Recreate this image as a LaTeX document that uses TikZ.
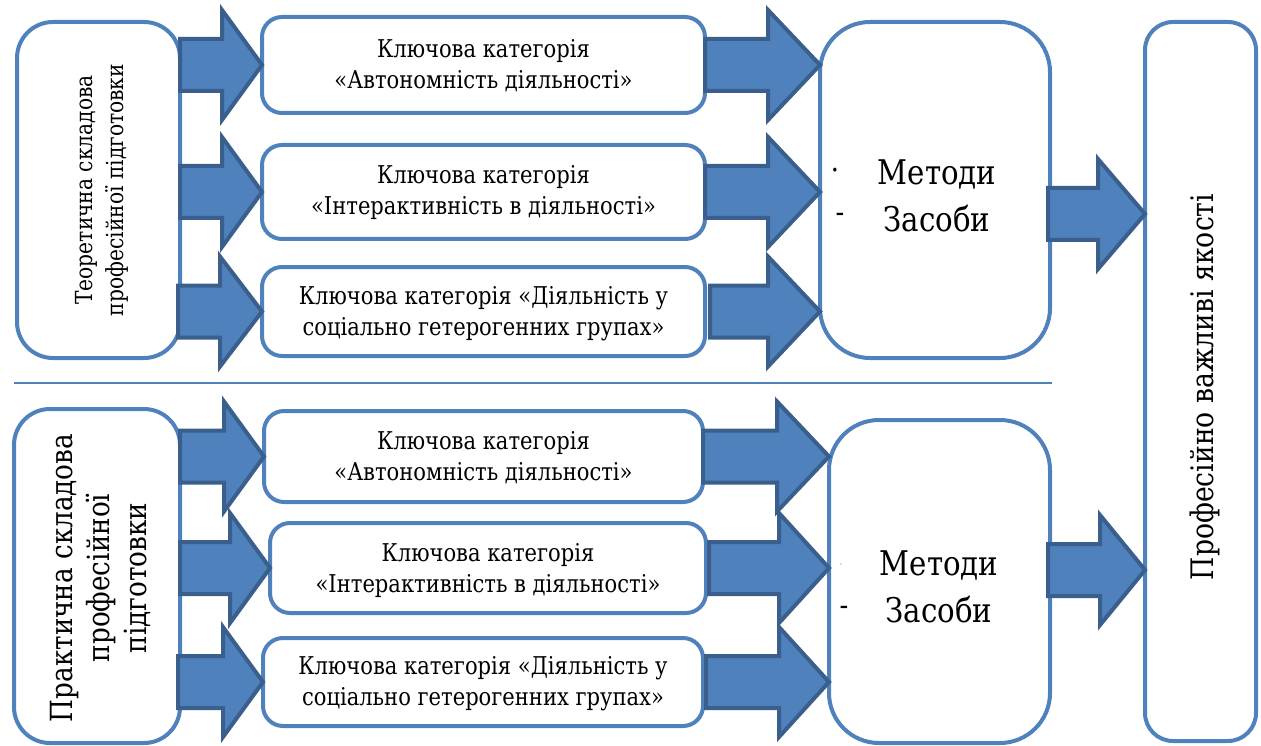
\documentclass[tikz,border=0pt]{standalone}
\usepackage{fontspec}
\newfontfamily\tnr{DejaVu Serif}[FakeStretch=0.86]
\usetikzlibrary{calc}

\definecolor{boxblue}{RGB}{79,129,189}
\definecolor{arrowedge}{RGB}{58,95,140}

\tikzset{
  box/.style={draw=boxblue, line width=4pt, fill=white, inner sep=0pt, outer sep=0pt},
  catbox/.style={box, rounded corners=20pt},
  sidebox/.style={box, rounded corners=36pt},
  methbox/.style={box, rounded corners=50pt},
  resbox/.style={box, rounded corners=28pt},
  cattext/.style={font=\tnr\fontsize{24.5}{31}\selectfont, align=center, inner sep=0pt},
  sidetext/.style={font=\tnr\fontsize{23.5}{31}\selectfont, align=center, inner sep=0pt, rotate=90},
  bigtext/.style={font=\tnr\fontsize{30.5}{37}\selectfont, align=center, inner sep=0pt},
  methtext/.style={font=\tnr\fontsize{34}{44}\selectfont, inner sep=0pt},
  marktext/.style={font=\tnr\fontsize{30}{30}\selectfont, inner sep=0pt},
  barrow/.style={fill=boxblue, draw=arrowedge, line width=4pt, line join=miter},
  sepline/.style={draw=boxblue, line width=2pt},
}

% horizontal block arrow: optional head length, start point, tip point
\newcommand\blockarrow[3][40]{%
  \filldraw[barrow] let \p1=(#2), \p2=(#3) in
    (\x1,\y2+26pt) -- (\x2-#1pt,\y2+26pt) -- (\x2-#1pt,\y2+55pt) -- (\x2,\y2)
    -- (\x2-#1pt,\y2-55pt) -- (\x2-#1pt,\y2-26pt) -- (\x1,\y2-26pt) -- cycle;
}

\begin{document}
\begin{tikzpicture}[x=1pt, y=-1pt]
  \useasboundingbox (0,0) rectangle (1261,746);

  % left column: the two components of training
  \node[sidebox, minimum width=163pt, minimum height=336pt] (TL) at (98.5,190) {};
  \node[sidebox, minimum width=166pt, minimum height=334pt] (BL) at (97,576) {};
  \node[sidetext] (TLt) at (102,190) {Теоретична складова\\професійної підготовки};
  \node[bigtext, rotate=90] (BLt) at (100,578) {Практична складова\\професійної\\підготовки};

  % key categories, upper group
  \node[catbox, minimum width=443pt, minimum height=96pt] (T1) at (483.5,65) {};
  \node[catbox, minimum width=443pt, minimum height=94pt] (T2) at (483.5,192) {};
  \node[catbox, minimum width=443pt, minimum height=89pt] (T3) at (483.5,311.5) {};
  \node[cattext] (T1t) at (483.5,66) {Ключова категорія\\«Автономність діяльності»};
  \node[cattext] (T2t) at (483.5,193) {Ключова категорія\\«Інтерактивність в діяльності»};
  \node[cattext] (T3t) at (483.5,314) {Ключова категорія «Діяльність у\\соціально гетерогенних групах»};

  % key categories, lower group
  \node[catbox, minimum width=439pt, minimum height=91pt] (B1) at (483.5,456.5) {};
  \node[catbox, minimum width=436pt, minimum height=90pt] (B2) at (488,568) {};
  \node[catbox, minimum width=440pt, minimum height=88pt] (B3) at (483,682) {};
  \node[cattext] (B1t) at (483.5,458) {Ключова категорія\\«Автономність діяльності»};
  \node[cattext] (B2t) at (488,571) {Ключова категорія\\«Інтерактивність в діяльності»};
  \node[cattext] (B3t) at (483,684) {Ключова категорія «Діяльність у\\соціально гетерогенних групах»};

  % methods and means
  \node[methbox, minimum width=230pt, minimum height=336pt] (M1) at (935,190) {};
  \node[methbox, minimum width=221pt, minimum height=323pt] (M2) at (939.5,581.5) {};
  \node[methtext] (M1a) at (937,174) {Методи};
  \node[methtext] (M1b) at (937,219) {Засоби};
  \node[marktext] (M1m) at (835,174) {·};
  \node[marktext] (M1n) at (840,218) {-};
  \node[methtext] (M2a) at (939,565) {Методи};
  \node[methtext] (M2b) at (939,610) {Засоби};
  \node[font=\tnr\fontsize{12}{14}\selectfont, text=black!35, inner sep=0pt] (M2m) at (841,566) {·};
  \node[marktext] (M2n) at (844,611) {-};

  % result
  \node[resbox, minimum width=111pt, minimum height=719pt] (R) at (1200.5,381.5) {};
  \node[bigtext, font=\tnr\fontsize{31}{37}\selectfont, rotate=90] (Rt) at (1205,387) {Професійно важливі якості};

  % separator between the two groups
  \coordinate (s1) at (14,383);
  \coordinate (s2) at (1052,383);
  \draw[sepline] (s1) -- (s2);

  % arrows from the components to the categories
  \blockarrow[40]{TL.east |- T1.west}{T1.west}
  \blockarrow[40]{TL.east |- T2.west}{T2.west}
  \blockarrow[42]{$(TL.east |- T3.west)+(-2,0)$}{T3.west}
  \blockarrow[40]{BL.east |- B1.west}{B1.west}
  \blockarrow[40]{BL.east |- B2.west}{B2.west}
  \blockarrow[40]{$(BL.east |- B3.west)+(-2,0)$}{B3.west}

  % arrows from the categories to methods and means
  \blockarrow[52]{T1.east}{M1.west |- T1.east}
  \blockarrow[52]{T2.east}{M1.west |- T2.east}
  \blockarrow[52]{$(T3.east)+(5,0)$}{M1.west |- T3.east}
  \blockarrow[52]{B1.east}{M2.west |- B1.east}
  \blockarrow[50]{$(B2.east)+(3,0)$}{M2.west |- B2.east}
  \blockarrow[50]{$(B3.east)+(3,0)$}{M2.west |- B3.east}

  % arrows to the resulting qualities
  \blockarrow[47]{$(M1.east)+(-2,24)$}{R.west |- {$(M1.east)+(0,24)$}}
  \blockarrow[45]{$(M2.east)+(-2,-11.5)$}{R.west |- {$(M2.east)+(0,-11.5)$}}
\end{tikzpicture}
\end{document}
